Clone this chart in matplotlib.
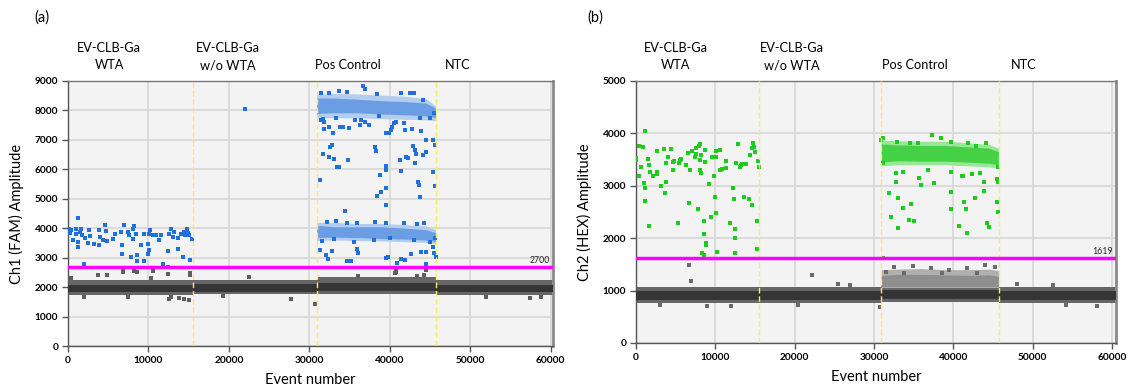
import matplotlib
matplotlib.use("Agg")
import matplotlib.pyplot as plt
import matplotlib.transforms as mtransforms

plt.rcParams['font.family'] = ['Lato', 'DejaVu Sans']

# ---------------- shared ----------------
group_labels = ["EV-CLB-Ga\nWTA", "EV-CLB-Ga\nw/o WTA", "Pos Control", "NTC"]
well_bounds = [15500, 30900, 45700]
x_ticks = [0, 10000, 20000, 30000, 40000, 50000, 60000]

# ---------------- panel (a) Ch1 FAM ----------------
a_label_pos = [5100, 19900, 34800, 48400]
a_threshold = 2700
a_yticks = [0, 1000, 2000, 3000, 4000, 5000, 6000, 7000, 8000, 9000]

# negative (gray) band envelopes per well: event edges, outer/core limits
a_neg_ev = [0, 15500, 15500, 30900, 30900, 45700, 45700, 60300]
a_neg_outer_lo = [1720, 1720, 1760, 1760, 1780, 1780, 1740, 1740]
a_neg_outer_hi = [2230, 2230, 2250, 2250, 2330, 2330, 2250, 2250]
a_neg_core_lo = [1830, 1830, 1850, 1850, 1880, 1880, 1840, 1840]
a_neg_core_hi = [2080, 2080, 2100, 2100, 2150, 2150, 2080, 2080]

# dense positive clusters in Pos Control well
a_pc_ev = [30900, 33000, 36000, 39000, 42000, 44500, 45700]
a_hi_outer_lo = [7750, 7750, 7750, 7720, 7700, 7680, 7650]
a_hi_outer_hi = [8550, 8580, 8560, 8520, 8480, 8400, 8150]
a_hi_core_lo = [7900, 7920, 7920, 7880, 7850, 7820, 7760]
a_hi_core_hi = [8420, 8420, 8380, 8330, 8300, 8250, 8080]
a_lo_outer_lo = [3580, 3600, 3580, 3570, 3540, 3520, 3470]
a_lo_outer_hi = [4200, 4200, 4160, 4160, 4120, 4080, 3950]
a_lo_core_lo = [3680, 3700, 3680, 3650, 3630, 3600, 3550]
a_lo_core_hi = [4100, 4050, 4050, 4050, 4000, 3950, 3850]

# individual FAM-positive droplets (event, amplitude)
a_pos_ev = [1200, 80, 410, 950, 1530, 1030, 620, 1240, 1240, 1780, 2070, 2600, 2690, 2480,
            3180, 3840, 3930, 3800, 4550, 4670, 4340, 4830, 5580, 5790, 6610, 6740, 6740,
            7020, 7440, 7640, 7850, 8060, 8260, 8140, 8470, 8550, 8550, 9090, 9500, 9500,
            9920, 9920, 10040, 10210, 10120, 10540, 10950, 11360, 11570, 11860, 12400,
            12600, 12810, 13020, 13220, 13720, 13720, 14050, 14260, 14460, 14590, 14750,
            14880, 15080, 15170, 15410, 240, 1600, 2016, 21980,
            31650, 31770, 32510, 33000, 33830, 34240, 34980, 36300, 37410, 36380, 39590,
            39880, 40120, 40330, 40820, 41850, 42800, 43910, 44530, 45430, 45640, 32800,
            32590, 31650, 32510, 33130, 33420, 33740, 34860, 38150, 38350, 41230, 41970,
            42250, 42880, 43090, 43210, 44120, 44450, 43090, 39510, 39510, 41360, 45430,
            31360, 38790, 38880, 38390, 43500, 43620, 45680, 39590, 43790, 39590, 34440,
            31360, 32060, 32800, 32290, 34650, 35190, 35880, 36090, 39590, 39800, 40900,
            41440, 41850, 42670, 43910, 44450, 44450, 45430, 45550, 45760,
            # ragged edges of the dense Pos Control clusters
            36680, 32430, 33670, 34700, 36980, 38410, 41440, 42550, 43050, 44110, 31400,
            31400, 31770, 33260, 35740, 36980, 38620, 40480, 41720, 43790, 45030, 45530,
            33260, 32220, 34700, 35940, 38220, 39580, 41720, 43370, 44200,
            31600, 33050, 35530, 38000, 40070, 42960, 44950, 45650]
a_pos_amp = [4359, 3985, 3928, 3985, 3872, 3793, 3589, 3532, 3362, 3758, 3679, 3928, 3736, 3498,
             3453, 3951, 3702, 3442, 4098, 3906, 3611, 3555, 3645, 3793, 3872, 3419, 3136,
             4121, 3872, 3758, 3023, 3985, 4076, 3645, 3815, 3079, 2887, 3419, 3815, 2887,
             3475, 3136, 3815, 3951, 3249, 3758, 3758, 3589, 3758, 2796, 3226,
             3815, 3985, 3702, 3872, 3668, 3306, 3815, 3023, 3872, 3758, 3985,
             3838, 3758, 2909, 3645, 3826, 3960, 2785, 8038,
             7698, 7358, 7449, 7245, 7449, 7449, 7415, 7505, 7505, 7675, 7245,
             7245, 7335, 7449, 7618, 7335, 7358, 7313, 6996, 6996, 6826, 6826,
             6769, 6520, 6407, 6351, 6090, 6090, 6317, 6769, 6622, 6317, 6430,
             6373, 6792, 6656, 6520, 6486, 6600, 6203, 6113, 5977, 5943, 5920,
             5637, 5807, 5241, 5094, 5558, 5467, 5433, 5377, 5071, 4788, 4596,
             3260, 3090, 3237, 2943, 2898, 2898, 3294, 3170, 2977, 3011, 2807,
             2943, 2920, 3113, 3181, 3204, 2773, 3373, 3147, 3034,
             8830, 8602, 8660, 8640, 8715, 8545, 8602, 8580, 8580, 8357, 8580,
             7675, 7619, 7732, 7675, 7619, 7811, 7585, 7585, 7732, 7732, 7902,
             4256, 4200, 4188, 4166, 4222, 4166, 4166, 4143, 4166,
             3566, 3623, 3543, 3600, 3657, 3600, 3543, 3657]

# gray outliers outside the dense negative band
a_neg_ev_pts = [6820, 6820, 8260, 8550, 4880, 3720, 10540, 10330, 12400, 12400, 15170, 15170,
                410, 7440, 12600, 12810, 13840, 14460, 15080, 19210, 27690, 30740, 40820,
                40820, 44450, 40700, 43340, 44200, 22500, 52000, 57500, 58800, 36000, 2000]
a_neg_amp_pts = [2604, 2513, 2547, 2513, 2400, 2400, 2547, 2321, 2457, 2683, 2490, 2400,
                 2321, 1664, 1585, 1664, 1642, 1608, 1574, 1687, 1608, 1415, 2638,
                 2524, 2581, 2480, 2380, 2420, 2330, 1660, 1620, 1650, 2380, 1680]

# ---------------- panel (b) Ch2 HEX ----------------
b_label_pos = [5000, 19700, 35200, 48900]
b_threshold = 1619
b_yticks = [0, 1000, 2000, 3000, 4000, 5000]

b_neg_ev = [0, 15500, 15500, 30900, 30900, 45700, 45700, 60500]
b_neg_outer_lo = [770, 770, 770, 770, 780, 780, 770, 770]
b_neg_outer_hi = [1060, 1060, 1060, 1060, 1080, 1080, 1060, 1060]
b_neg_core_lo = [830, 830, 830, 830, 840, 840, 830, 830]
b_neg_core_hi = [1000, 1000, 1000, 1000, 1010, 1010, 1000, 1000]

b_pc_ev = [30900, 33000, 36000, 39000, 42000, 44500, 45700]
b_grn_outer_lo = [3380, 3400, 3400, 3400, 3380, 3360, 3340]
b_grn_outer_hi = [3870, 3860, 3850, 3850, 3820, 3790, 3720]
b_grn_core_lo = [3450, 3480, 3470, 3470, 3450, 3430, 3400]
b_grn_core_hi = [3800, 3780, 3770, 3770, 3740, 3720, 3650]
# FAM-only (gray) cluster in Pos Control, HEX channel
b_gry_outer_lo = [1060, 1060, 1060, 1060, 1060, 1060, 1060]
b_gry_outer_hi = [1400, 1410, 1420, 1400, 1400, 1410, 1380]
b_gry_core_lo = [1080, 1080, 1080, 1080, 1080, 1080, 1080]
b_gry_core_hi = [1290, 1310, 1310, 1300, 1290, 1300, 1270]

b_pos_ev = [0, 0, 340, 840, 1140, 630, 420, 1050, 1140, 1140, 1480, 1600, 1770, 1690, 2110,
            2620, 2620, 2620, 3160, 3590, 3710, 3800, 3800, 4010, 4430, 4640, 4850, 4640,
            5270, 5400, 5570, 5700, 6330, 6540, 6670, 6750, 7050, 7380, 7590, 7590, 7810,
            7930, 8020, 8020, 8020, 8230, 8230, 8350, 8520, 8520, 8610, 8650, 8650, 8780,
            8860, 9160, 9490, 9620, 9790, 9920, 10130, 10130, 10130, 10250, 10550, 10630,
            10890, 11310, 11390, 11810, 12240, 12320, 12450, 12530, 12570, 12490, 12870,
            13080, 13210, 13420, 13630, 13840, 14260, 14430, 14560, 14640, 14770, 14890,
            14980, 15270, 15270, 15400, 15530,
            30920, 35710, 35920, 37580, 32710, 39670, 41130, 42380, 43830, 45500, 45620,
            43830, 31880, 33000, 33710, 34670, 32080, 34460, 35000, 33000, 39670, 41330,
            41540, 42790, 40710, 41670, 44250, 44460, 45500, 45620, 31130,
            37250, 31090, 32850, 34520, 35570, 38500, 39760, 41850, 44160, 42900,
            32760, 33680, 36820, 39760, 41220, 43320, 45620, 31170]
b_pos_amp = [3522, 3490, 3758, 3732, 4045, 3363, 3185, 3045, 2949, 2713, 3503, 3395, 3268, 2236,
             3185, 3217, 3669, 3268, 2994, 3694, 2854, 3076, 3427, 3541, 3694, 3459, 3478, 3299,
             2293, 3439, 3490, 3516, 3395, 3631, 2675, 3299, 3669, 3554, 3605, 3713, 2548,
             3758, 3796, 3490, 3299, 3248, 3586, 1720, 1688, 2331, 2076, 3459, 3682, 1866,
             1911, 3032, 2408, 3554, 3185, 2790, 3669, 3541, 2484, 1739, 3299, 3682,
             3312, 3478, 3331, 2293, 2949, 2739, 2185, 2013, 3427, 1720, 3790,
             3350, 3389, 3408, 2777, 3408, 2739, 3586, 3713, 2637, 3822, 3732,
             3650, 2325, 1790, 3478, 3363,
             3880, 3146, 3019, 3050, 3082, 2878, 3178, 3229, 3082, 3127, 3063,
             2904, 2859, 2763, 2572, 2655, 2412, 2348, 2336, 2189, 2553, 2699,
             2559, 2763, 2234, 2093, 2297, 2221, 2699, 2508, 1615,
             3969, 3905, 3842, 3823, 3823, 3905, 3842, 3810, 3823, 3760,
             3250, 3269, 3300, 3269, 3186, 3250, 3364, 3440]

# gray droplets: outliers of the negative band and the ragged top of the FAM-only cluster
b_neg_ev_pts = [6670, 6880, 22150, 30700, 54250, 58100, 20460, 27000, 25500, 9000, 48000,
                52500, 12000, 3000,
                32580, 34880, 37170, 39460, 41750, 44040, 45290, 31540, 33830, 38620, 43000]
b_neg_amp_pts = [1484, 1185, 1306, 689, 721, 702, 720, 1110, 1130, 700, 1120,
                 1100, 710, 720,
                 1455, 1467, 1423, 1391, 1423, 1487, 1455, 1359, 1327, 1340, 1327]


# ---------------- drawing ----------------
W, H = 1135, 390
fig = plt.figure(figsize=(W / 100, H / 100), dpi=100)

ax_a = fig.add_axes([68 / W, 1 - 346 / H, (553 - 68) / W, (346 - 81) / H])
ax_b = fig.add_axes([636 / W, 1 - 343 / H, (1116 - 636) / W, (343 - 81) / H])

GRAY_OUT = '#666666'
GRAY_CORE = '#353535'
BLUE = '#1f6fdc'
GREEN = '#1ccc1c'
PT = 5


def style_axes(ax, yticks, ymax, ylabel, xmax):
    ax.set_facecolor('#f3f3f3')
    ax.set_xlim(0, xmax)
    ax.set_ylim(0, ymax)
    ax.set_xticks(x_ticks)
    ax.set_yticks(yticks)
    ax.grid(True, color='#d9d9d9', linewidth=1.3, zorder=0)
    ax.set_axisbelow(True)
    for s in ['left', 'bottom']:
        ax.spines[s].set_color('#555555')
        ax.spines[s].set_linewidth(1.0)
    ax.spines['top'].set_color('#777777')
    ax.spines['top'].set_linewidth(1.0)
    ax.spines['right'].set_color('#8a8a8a')
    ax.spines['right'].set_linewidth(2.0)
    ax.tick_params(axis='both', direction='out', length=4, width=1, color='#555555',
                   labelsize=7.3, pad=3)
    for lab in ax.get_xticklabels() + ax.get_yticklabels():
        lab.set_fontweight('bold')
    ax.set_xlabel('Event number', fontsize=10.5, labelpad=6)
    ax.set_ylabel(ylabel, fontsize=10.5, labelpad=8)


def band(ax, ev, lo, hi, color, z):
    ax.fill_between(ev, lo, hi, color=color, linewidth=0, zorder=z)


def group_text(ax, positions):
    trans = mtransforms.blended_transform_factory(ax.transData, fig.transFigure)
    for pos, lab in zip(positions, group_labels):
        ax.text(pos, 1 - 71 / H, lab, transform=trans, ha='center', va='bottom',
                fontsize=9.2, linespacing=1.5)


# ---- panel a ----
style_axes(ax_a, a_yticks, 9000, 'Ch1 (FAM) Amplitude', 60300)
band(ax_a, a_neg_ev, a_neg_outer_lo, a_neg_outer_hi, GRAY_OUT, 2)
band(ax_a, a_neg_ev, a_neg_core_lo, a_neg_core_hi, GRAY_CORE, 3)
band(ax_a, a_pc_ev, a_hi_outer_lo, a_hi_outer_hi, '#b3cdee', 2)
band(ax_a, a_pc_ev, a_hi_core_lo, a_hi_core_hi, '#6a9de3', 3)
band(ax_a, a_pc_ev, a_lo_outer_lo, a_lo_outer_hi, '#b3cdee', 2)
band(ax_a, a_pc_ev, a_lo_core_lo, a_lo_core_hi, '#6a9de3', 3)
ax_a.scatter(a_neg_ev_pts, a_neg_amp_pts, s=PT, marker='s', color='#5e5e5e', linewidths=0, zorder=4)
ax_a.scatter(a_pos_ev, a_pos_amp, s=PT, marker='s', color=BLUE, linewidths=0, zorder=4)
for b in well_bounds:
    ax_a.axvline(b, color='#f2f060', linewidth=1.0, linestyle=(0, (4, 2)), zorder=5)
ax_a.axhline(a_threshold, color='#ff00ff', linewidth=2.5, zorder=6)
ax_a.text(0.993, a_threshold + 60, str(a_threshold),
          transform=mtransforms.blended_transform_factory(ax_a.transAxes, ax_a.transData),
          ha='right', va='bottom', fontsize=6.3, color='#222222', zorder=7)
group_text(ax_a, a_label_pos)
fig.text(34 / W, 1 - 18 / H, '(a)', fontsize=10.5, ha='left', va='center')

# ---- panel b ----
style_axes(ax_b, b_yticks, 5000, 'Ch2 (HEX) Amplitude', 60500)
band(ax_b, b_neg_ev, b_neg_outer_lo, b_neg_outer_hi, GRAY_OUT, 2)
band(ax_b, b_neg_ev, b_neg_core_lo, b_neg_core_hi, GRAY_CORE, 3)
band(ax_b, b_pc_ev, b_gry_outer_lo, b_gry_outer_hi, '#b0b0b0', 2)
band(ax_b, b_pc_ev, b_gry_core_lo, b_gry_core_hi, '#8e8e8e', 2.5)
band(ax_b, b_pc_ev, b_grn_outer_lo, b_grn_outer_hi, '#98e698', 2)
band(ax_b, b_pc_ev, b_grn_core_lo, b_grn_core_hi, '#45d145', 3)
ax_b.scatter(b_neg_ev_pts, b_neg_amp_pts, s=PT, marker='s', color='#6a6a6a', linewidths=0, zorder=4)
ax_b.scatter(b_pos_ev, b_pos_amp, s=PT, marker='s', color=GREEN, linewidths=0, zorder=4)
for b in well_bounds:
    ax_b.axvline(b, color='#f2f060', linewidth=1.0, linestyle=(0, (4, 2)), zorder=5)
ax_b.axhline(b_threshold, color='#ff00ff', linewidth=2.5, zorder=6)
ax_b.text(0.993, b_threshold + 35, str(b_threshold),
          transform=mtransforms.blended_transform_factory(ax_b.transAxes, ax_b.transData),
          ha='right', va='bottom', fontsize=6.3, color='#222222', zorder=7)
group_text(ax_b, b_label_pos)
fig.text(587 / W, 1 - 18 / H, '(b)', fontsize=10.5, ha='left', va='center')

fig.savefig('out.png', dpi=100, facecolor='white')
